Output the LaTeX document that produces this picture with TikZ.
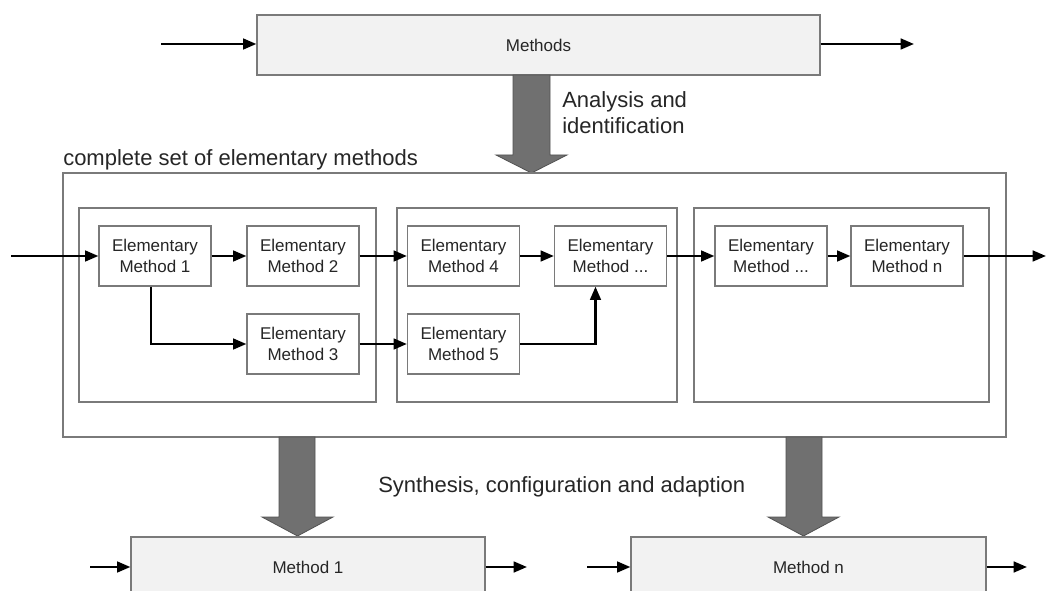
\documentclass[tikz,border=0pt]{standalone}
\usepackage{fontspec}
\setmainfont{Liberation Sans}
\usetikzlibrary{arrows.meta}
\definecolor{boxline}{HTML}{7A7A7A}
\definecolor{panelfill}{HTML}{F2F2F2}
\definecolor{bigfill}{HTML}{707070}
\definecolor{bigline}{HTML}{525252}
\definecolor{txt}{HTML}{262626}
\tikzset{
  emethod/.style={draw=boxline, line width=0.9pt, fill=white, inner sep=0pt,
    minimum width=84pt, minimum height=45pt, align=center, text=txt,
    font=\fontsize{12.75}{15.75}\selectfont},
  frame/.style={draw=boxline, line width=0.9pt, inner sep=0pt},
  panel/.style={draw=boxline, line width=0.9pt, fill=panelfill, inner sep=0pt,
    minimum height=45pt, text=txt, font=\fontsize{12.75}{15.75}\selectfont},
  flow/.style={line width=1.9pt, -{Triangle[length=10pt,width=8pt]}},
  biglabel/.style={anchor=base west, inner sep=0pt, text=txt,
    font=\fontsize{16.5}{19.5}\selectfont},
  bigarrow/.style={fill=bigfill, draw=bigline, line width=0.6pt}
}
\begin{document}
\begin{tikzpicture}[x=0.75pt,y=-0.75pt]
\useasboundingbox (0,0) rectangle (1046,591);
\clip (0,0) rectangle (1046,591);
\fill[white] (0,0) rectangle (1046,591);

% top methods box
\node[panel, minimum width=422.25pt] (methods) at (538.5,45) {Methods};
\coordinate (min) at (161,44);
\coordinate (mout) at (914,44);
\draw[flow] (min) -- (methods.west |- min);
\draw[flow] (methods.east |- mout) -- (mout);

% analysis arrow
\draw[bigarrow] (513,75) -- (513,155) -- (496,155) -- (531.5,173) -- (567,155) -- (550,155) -- (550,75) -- cycle;
\node[biglabel] (an1) at (562,108) {Analysis and};
\node[biglabel] (an2) at (562,134) {identification};

% outer set
\node[biglabel] (setlabel) at (63,166) {complete set of elementary methods};
\node[frame, minimum width=707.25pt, minimum height=198pt] (outer) at (534.5,305) {};
\node[frame, minimum width=222.75pt, minimum height=145.5pt] (ib1) at (227.5,305) {};
\node[frame, minimum width=210pt, minimum height=145.5pt] (ib2) at (537,305) {};
\node[frame, minimum width=221.25pt, minimum height=145.5pt] (ib3) at (841.5,305) {};

% elementary methods
\node[emethod] (em1) at (155,256) {Elementary\\Method 1};
\node[emethod] (em2) at (303,256) {Elementary\\Method 2};
\node[emethod] (em3) at (303,344) {Elementary\\Method 3};
\node[emethod] (em4) at (463.5,256) {Elementary\\Method 4};
\node[emethod] (emd) at (610.5,256) {Elementary\\Method ...};
\node[emethod] (em5) at (463.5,344) {Elementary\\Method 5};
\node[emethod] (emd2) at (771,256) {Elementary\\Method ...};
\node[emethod] (emn) at (907,256) {Elementary\\Method n};

\coordinate (ein) at (11,256);
\coordinate (eout) at (1046,256);
\draw[flow] (ein) -- (em1.west);
\draw[flow] (em1) -- (em2);
\draw[flow] ([xshift=-3pt]em1.south) |- (em3.west);
\draw[flow] (em2) -- (em4);
\draw[flow] (em3) -- (em5);
\draw[flow] (em4) -- (emd);
\draw[flow] (em5.east) -| ([xshift=-11.25pt]emd.south);
\draw[flow] (emd) -- (emd2);
\draw[flow] (emd2) -- (emn);
\draw[flow] (emn.east) -- (eout);

% synthesis arrows
\draw[bigarrow] (279,437) -- (279,517) -- (262,517) -- (297.5,536) -- (333,517) -- (315,517) -- (315,437) -- cycle;
\draw[bigarrow] (786,437) -- (786,517) -- (768,517) -- (803.5,536) -- (839,517) -- (822,517) -- (822,437) -- cycle;
\node[biglabel] (synth) at (378,492) {Synthesis, configuration and adaption};

% bottom methods
\node[panel, minimum width=265.5pt] (m1) at (308,567) {Method 1};
\node[panel, minimum width=266.25pt] (mn) at (808.5,567) {Method n};
\coordinate (m1in) at (90,567);
\coordinate (m1out) at (527,567);
\coordinate (mnin) at (587,567);
\coordinate (mnout) at (1027,567);
\draw[flow] (m1in) -- (m1.west);
\draw[flow] (m1.east) -- (m1out);
\draw[flow] (mnin) -- (mn.west);
\draw[flow] (mn.east) -- (mnout);
\end{tikzpicture}
\end{document}
